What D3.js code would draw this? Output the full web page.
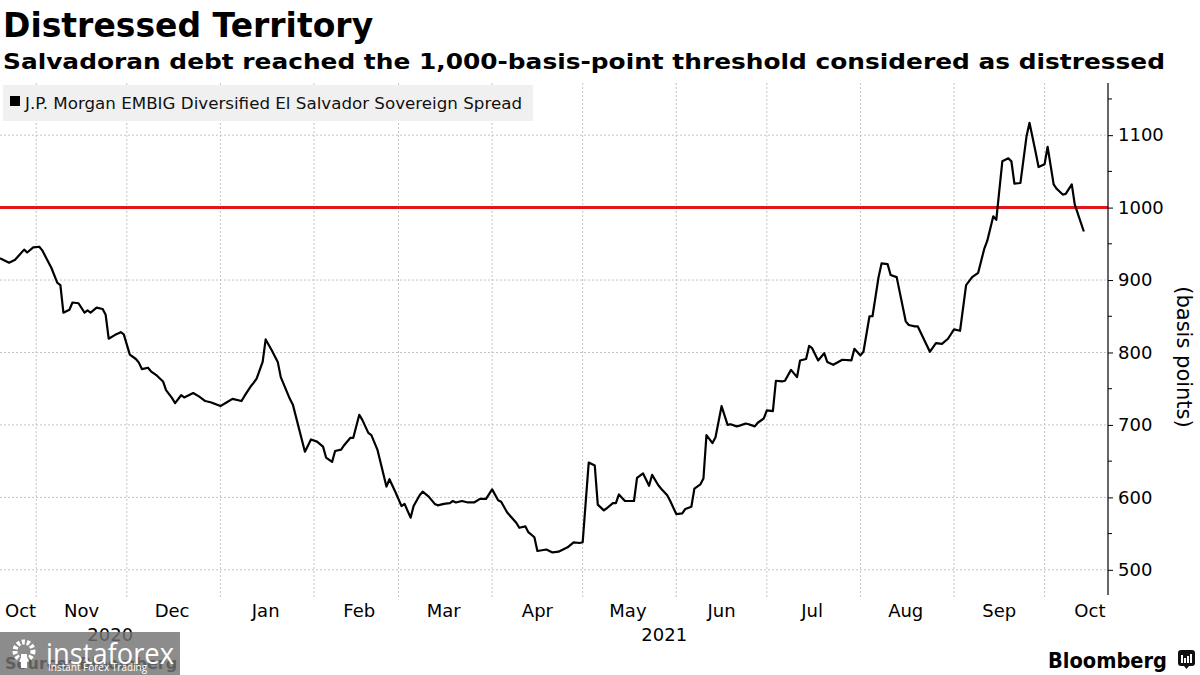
<!DOCTYPE html>
<html><head><meta charset="utf-8">
<script src="https://cdn.jsdelivr.net/npm/d3@7"></script>
<style>body{margin:0;background:#fff;} svg{display:block;font-family:"DejaVu Sans",sans-serif;}</style>
</head><body><svg id="c" width="1200" height="675"></svg>
<script>
// ---- data ----
const dates = ["2020-10-20","2020-10-23","2020-10-25","2020-10-28","2020-10-29","2020-10-31","2020-11-02","2020-11-03","2020-11-05","2020-11-06","2020-11-08","2020-11-09","2020-11-10","2020-11-12","2020-11-13","2020-11-15","2020-11-17","2020-11-18","2020-11-19","2020-11-21","2020-11-23","2020-11-24","2020-11-25","2020-11-27","2020-11-29","2020-11-30","2020-12-02","2020-12-04","2020-12-05","2020-12-06","2020-12-08","2020-12-09","2020-12-11","2020-12-13","2020-12-14","2020-12-16","2020-12-17","2020-12-19","2020-12-20","2020-12-23","2020-12-25","2020-12-27","2020-12-29","2021-01-01","2021-01-03","2021-01-05","2021-01-08","2021-01-09","2021-01-11","2021-01-12","2021-01-13","2021-01-15","2021-01-16","2021-01-18","2021-01-20","2021-01-21","2021-01-24","2021-01-25","2021-01-29","2021-01-31","2021-02-02","2021-02-04","2021-02-05","2021-02-07","2021-02-08","2021-02-10","2021-02-11","2021-02-13","2021-02-14","2021-02-16","2021-02-17","2021-02-19","2021-02-20","2021-02-22","2021-02-25","2021-02-26","2021-02-28","2021-03-02","2021-03-03","2021-03-05","2021-03-06","2021-03-08","2021-03-09","2021-03-11","2021-03-13","2021-03-14","2021-03-16","2021-03-18","2021-03-19","2021-03-20","2021-03-22","2021-03-24","2021-03-26","2021-03-28","2021-03-30","2021-04-01","2021-04-03","2021-04-04","2021-04-06","2021-04-09","2021-04-10","2021-04-12","2021-04-13","2021-04-15","2021-04-16","2021-04-19","2021-04-21","2021-04-23","2021-04-26","2021-04-28","2021-04-30","2021-05-01","2021-05-03","2021-05-05","2021-05-06","2021-05-08","2021-05-09","2021-05-11","2021-05-12","2021-05-13","2021-05-15","2021-05-18","2021-05-19","2021-05-21","2021-05-23","2021-05-24","2021-05-26","2021-05-27","2021-05-29","2021-05-30","2021-06-01","2021-06-03","2021-06-04","2021-06-06","2021-06-07","2021-06-09","2021-06-10","2021-06-11","2021-06-13","2021-06-14","2021-06-16","2021-06-18","2021-06-19","2021-06-21","2021-06-22","2021-06-24","2021-06-25","2021-06-27","2021-06-28","2021-06-30","2021-07-01","2021-07-03","2021-07-04","2021-07-06","2021-07-07","2021-07-09","2021-07-11","2021-07-12","2021-07-14","2021-07-15","2021-07-16","2021-07-18","2021-07-20","2021-07-21","2021-07-23","2021-07-26","2021-07-29","2021-07-30","2021-08-01","2021-08-02","2021-08-04","2021-08-05","2021-08-07","2021-08-08","2021-08-10","2021-08-11","2021-08-13","2021-08-16","2021-08-17","2021-08-19","2021-08-20","2021-08-24","2021-08-26","2021-08-28","2021-08-30","2021-09-01","2021-09-03","2021-09-05","2021-09-07","2021-09-09","2021-09-11","2021-09-12","2021-09-14","2021-09-15","2021-09-17","2021-09-19","2021-09-20","2021-09-21","2021-09-23","2021-09-25","2021-09-26","2021-09-28","2021-09-29","2021-10-01","2021-10-02","2021-10-04","2021-10-05","2021-10-07","2021-10-08","2021-10-10","2021-10-11","2021-10-14"];
const spread = [930,924,928,942,938,945,946,941,925,917,896,893,855,859,869,868,855,858,855,862,860,852,819,824,828,825,797,791,786,777,779,774,768,760,748,737,730,741,738,744,739,733,731,726,731,736,733,740,753,758,764,787,818,803,787,766,736,728,663,680,677,670,655,649,664,666,672,682,682,714,707,689,686,666,615,625,607,588,591,572,588,603,608,601,591,589,591,592,595,593,595,593,593,598,598,611,596,594,579,565,558,560,552,545,526,528,524,525,531,538,537,538,648,644,590,582,585,592,592,604,595,595,627,633,616,631,617,612,603,595,577,578,584,587,612,618,626,686,675,683,726,700,701,698,699,702,701,698,703,709,720,719,761,760,761,776,766,789,791,809,806,789,799,787,783,790,789,805,796,801,850,850,904,923,922,907,904,843,838,836,836,801,813,812,819,832,830,893,904,910,943,954,988,983,1064,1068,1064,1033,1034,1098,1117,1077,1056,1060,1084,1032,1026,1018,1019,1032,1004,967];
const threshold = 1000;
const yTickValues = [500,600,700,800,900,1000,1100];
const yMinorValues = [550,650,750,850,950,1050,1150];
const xDomain = ["2020-10-20","2021-10-22"];
const yDomain = [468,1172];
const seriesName = "J.P. Morgan EMBIG Diversified El Salvador Sovereign Spread";
const titleText = "Distressed Territory";
const subtitleText = "Salvadoran debt reached the 1,000-basis-point threshold considered as distressed";
const yAxisTitle = "(basis points)";
const sourceText = "Source: Bloomberg";

// ---- setup ----
const parse = d3.utcParse("%Y-%m-%d");
const data = dates.map((d,i)=>({date:parse(d), v:spread[i]}));
const svg = d3.select("#c");
const plotL = 0, plotR = 1108, plotT = 83, plotB = 593;

const x = d3.scaleUtc().domain(xDomain.map(parse)).range([plotL, plotR]);
const y = d3.scaleLinear().domain(yDomain).range([plotB, plotT]);

// gridlines
const monthStarts = d3.utcMonth.range(d3.utcMonth.ceil(x.domain()[0]), x.domain()[1]);
svg.append("g").selectAll("line").data(monthStarts).join("line")
  .attr("x1", d=>x(d)).attr("x2", d=>x(d)).attr("y1", plotT).attr("y2", plotB+4)
  .attr("stroke","#c4c4c4").attr("stroke-width",1).attr("stroke-dasharray","2,2");
svg.append("g").selectAll("line").data(yTickValues).join("line")
  .attr("x1", plotL).attr("x2", plotR).attr("y1", d=>y(d)).attr("y2", d=>y(d))
  .attr("stroke","#c4c4c4").attr("stroke-width",1).attr("stroke-dasharray","2,2");

// legend (drawn over gridlines)
svg.append("rect").attr("x",3).attr("y",85).attr("width",530).attr("height",36).attr("fill","#f0f0f0");
svg.append("rect").attr("x",10).attr("y",96).attr("width",10).attr("height",10).attr("fill","#000");
svg.append("text").attr("x",25).attr("y",109).attr("font-size",16).attr("fill","#111")
  .attr("textLength",497).attr("lengthAdjust","spacingAndGlyphs").text(seriesName);

// threshold line
svg.append("line").attr("x1",plotL).attr("x2",plotR).attr("y1",y(threshold)).attr("y2",y(threshold))
  .attr("stroke","#e4141b").attr("stroke-width",3);

// series line
svg.append("path").datum(data)
  .attr("d", d3.line().x(d=>x(d.date)).y(d=>y(d.v)))
  .attr("fill","none").attr("stroke","#000").attr("stroke-width",2.2).attr("stroke-linejoin","round");

// right axis
const yAxis = d3.axisRight(y).tickValues(yTickValues).tickFormat(d3.format("d"))
  .tickSize(5).tickPadding(5).tickSizeOuter(0);
const ga = svg.append("g").attr("transform",`translate(${plotR},0)`).call(yAxis);
ga.select(".domain").remove();
ga.selectAll(".tick line").attr("stroke","#000");
ga.selectAll(".tick text").attr("font-size",18).attr("font-family","DejaVu Sans").attr("fill","#000");
ga.append("line").attr("x1",0).attr("x2",0).attr("y1",plotT).attr("y2",plotB+2).attr("stroke","#000").attr("stroke-width",1.2);
ga.selectAll(".minor").data(yMinorValues).join("line").attr("class","minor")
  .attr("x1",0).attr("x2",4).attr("y1",d=>y(d)).attr("y2",d=>y(d)).attr("stroke","#000");

svg.append("text").attr("transform","translate(1177,357) rotate(90)").attr("text-anchor","middle")
  .attr("font-size",21).attr("fill","#000").text(yAxisTitle);

// x month labels (mid-month)
const fmtM = d3.utcFormat("%b");
const allMonths = d3.utcMonth.range(d3.utcMonth.floor(x.domain()[0]), x.domain()[1]);
const mg = svg.append("g").attr("font-size",18).attr("fill","#000");
allMonths.forEach(m=>{
  const mid = d3.utcDay.offset(m, 15);
  const t = mg.append("text").attr("y",617).text(fmtM(m));
  const w = t.node().getComputedTextLength();
  let cx = x(mid);
  if (cx - w/2 < 5) cx = 5 + w/2;
  t.attr("x",cx).attr("text-anchor","middle");
});
// year labels centered on visible span
const years = [2020, 2021];
years.forEach(yr=>{
  const a = Math.max(x(new Date(Date.UTC(yr,0,1))), plotL);
  const b = Math.min(x(new Date(Date.UTC(yr+1,0,1))), plotR);
  mg.append("text").attr("x",(a+b)/2).attr("y",641).attr("text-anchor","middle").text(String(yr));
});

// titles
svg.append("text").attr("x",3).attr("y",37).attr("font-size",33).attr("font-weight","bold").attr("fill","#000").text(titleText);
svg.append("text").attr("x",3).attr("y",69).attr("font-size",22).attr("font-weight","bold").attr("fill","#000")
  .attr("textLength",1162).attr("lengthAdjust","spacingAndGlyphs").text(subtitleText);

// source + Bloomberg
svg.append("text").attr("x",5).attr("y",669).attr("font-size",16).attr("font-weight","bold").attr("fill","#000").text(sourceText);
svg.append("text").attr("x",1048).attr("y",668).attr("font-size",21).attr("font-weight","bold").attr("fill","#000")
  .attr("textLength",119).attr("lengthAdjust","spacingAndGlyphs").text("Bloomberg");
const ic = svg.append("g").attr("transform","translate(1178,650)");
ic.append("rect").attr("width",17).attr("height",16).attr("rx",3).attr("fill","#111");
ic.append("path").attr("d","M6,16 L8.5,19 L11,16 Z").attr("fill","#111");
[[4,8],[7,5],[10,7],[13,9]].forEach(([bx,bh])=>ic.append("rect").attr("x",bx-1).attr("y",13-bh).attr("width",2).attr("height",bh).attr("fill","#fff"));

// watermark overlay (present in the reference image)
const wm = svg.append("g");
wm.append("rect").attr("x",0).attr("y",632).attr("width",180).attr("height",43).attr("fill","rgba(115,115,115,0.82)");
wm.append("circle").attr("cx",24).attr("cy",651).attr("r",9).attr("fill","none").attr("stroke","#fff").attr("stroke-width",5).attr("stroke-dasharray","3,2");
wm.append("rect").attr("x",21).attr("y",654).attr("width",6).attr("height",14).attr("fill","#fff");
wm.append("text").attr("x",46).attr("y",664).attr("font-size",30).attr("fill","#fff").attr("font-family","Open Sans")
  .attr("textLength",128).attr("lengthAdjust","spacingAndGlyphs").text("instaforex");
wm.append("text").attr("x",48).attr("y",671).attr("font-size",10).attr("fill","#fff").attr("font-family","Open Sans").text("Instant Forex Trading");
</script></body></html>
